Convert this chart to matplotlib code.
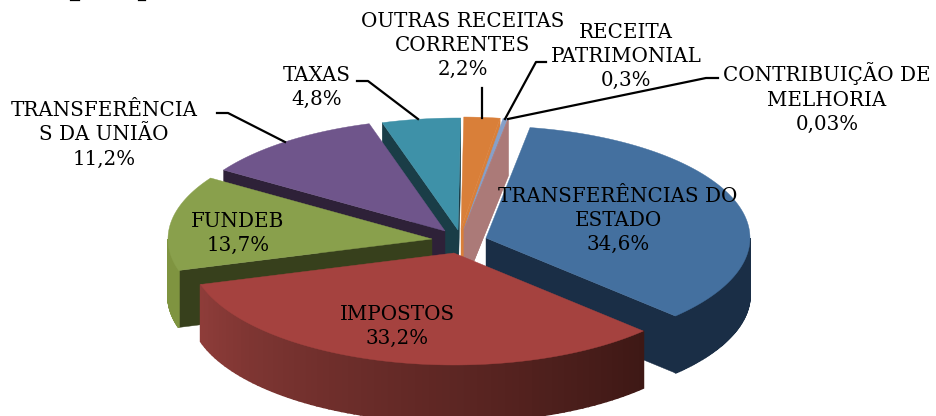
#!/usr/bin/env python3

import numpy as np
import matplotlib
matplotlib.use("Agg")
import matplotlib.pyplot as plt

labels = ["TRANSFERÊNCIAS DO\nESTADO", "IMPOSTOS", "FUNDEB", "TRANSFERÊNCIA\nS DA UNIÃO",
          "TAXAS", "OUTRAS RECEITAS\nCORRENTES", "RECEITA\nPATRIMONIAL", "CONTRIBUIÇÃO DE\nMELHORIA"]
values = [34.6, 33.2, 13.7, 11.2, 4.8, 2.2, 0.3, 0.03]
value_labels = ["34,6%", "33,2%", "13,7%", "11,2%", "4,8%", "2,2%", "0,3%", "0,03%"]

# look of the 3d pie, in pixels
start_angle = 9.6
rx = 264
ry = 112
depth = 57
apex_x = [486, 454, 432, 445, 458, 461, 464, 464]
apex_y = [238, 253, 239, 231, 230, 229, 229, 229]
face_colors = ["#44709f", "#a5423f", "#89a04c", "#6f558b", "#3e91a8", "#d97f39", "#86a0c9", "#b08080"]
wall_colors = ["#1a2e46", "#7a2f2c", "#37401c", "#2e2138", "#1a3d47", "#d97f39", "#ab7a78", "#ab7a78"]
rim_left = ["#1a2e46", "#8f3d3a", "#7f9440", "#2e2138", "#1a3d47", "#b06a30", "#ab7a78", "#ab7a78"]
rim_right = ["#1a2e46", "#3e1815", "#7f9440", "#2e2138", "#1a3d47", "#b06a30", "#ab7a78", "#ab7a78"]
draw_order = [5, 6, 7, 4, 3, 2, 0, 1]

label_x = [618, 397, 238, 104, 317, 463, 626, 827]
label_y = [220.5, 326.5, 233.5, 135, 87.5, 45.5, 56.5, 98]

leader_lines = {
    3: ([217, 228, 285], [113, 113, 142]),
    4: ([357, 368, 418], [81, 81, 119]),
    5: ([482, 482], [88, 118]),
    6: ([546, 536, 505], [62, 62, 119]),
    7: ([718, 706, 508], [78, 78, 119]),
}

# bits of a cut off line above the chart
top_scraps = [(70, 79), (138, 145)]


def rim_point(i, t):
    return apex_x[i] + rx*np.sin(np.radians(t)), apex_y[i] - ry*np.cos(np.radians(t))


def mix(c1, c2, f):
    a = np.array(matplotlib.colors.to_rgb(c1))
    b = np.array(matplotlib.colors.to_rgb(c2))
    return tuple(a + (b - a)*f)


def draw_wall(ax, i, t):
    x, y = rim_point(i, t)
    ax.fill([apex_x[i], x, x, apex_x[i]],
            [apex_y[i], y, y + depth, apex_y[i] + depth],
            color=wall_colors[i], linewidth=0.3)


def draw_slice(ax, i, t0, t1):
    s0, s1 = np.sin(np.radians(t0)), np.sin(np.radians(t1))
    if s0 < 0:
        draw_wall(ax, i, t0)
    if s1 > 0:
        draw_wall(ax, i, t1)

    # outer rim, only the part that faces front
    a = max(t0, 90)
    b = min(t1, 270)
    if b > a:
        steps = np.linspace(a, b, 80)
        for k in range(len(steps) - 1):
            x0, y0 = rim_point(i, steps[k])
            x1, y1 = rim_point(i, steps[k + 1])
            f = (steps[k] - 134)/(254 - 134)
            c = mix(rim_right[i], rim_left[i], min(max(f, 0), 1))
            ax.fill([x0, x1, x1, x0], [y0, y1, y1 + depth, y0 + depth], color=c, linewidth=1.2)

    ts = np.linspace(t0, t1, 120)
    xs, ys = rim_point(i, ts)
    ax.fill(np.r_[apex_x[i], xs], np.r_[apex_y[i], ys], color=face_colors[i], linewidth=0.3)


def main():
    f, ax = plt.subplots(figsize=(9.36, 4.16), dpi=100)
    f.subplots_adjust(0, 0, 1, 1)
    ax.set_xlim(0, 936)
    ax.set_ylim(416, 0)
    ax.axis("off")

    edges = start_angle + np.r_[0, np.cumsum(values)]*3.6

    for i in draw_order:
        draw_slice(ax, i, edges[i], edges[i + 1])

    for i in leader_lines:
        ax.plot(leader_lines[i][0], leader_lines[i][1], color="black", linewidth=1.6,
                solid_joinstyle="round", zorder=5)

    for x0, x1 in top_scraps:
        ax.plot([x0, x1], [0.3, 0.3], color="black", linewidth=0.9, zorder=5)

    for i in range(len(values)):
        ax.text(label_x[i], label_y[i], labels[i] + "\n" + value_labels[i],
                ha="center", va="center", family="DejaVu Serif", fontsize=14.3,
                linespacing=1.35, color="black", zorder=6)

    f.savefig("out.png", dpi=100)


if __name__ == "__main__":
    main()
